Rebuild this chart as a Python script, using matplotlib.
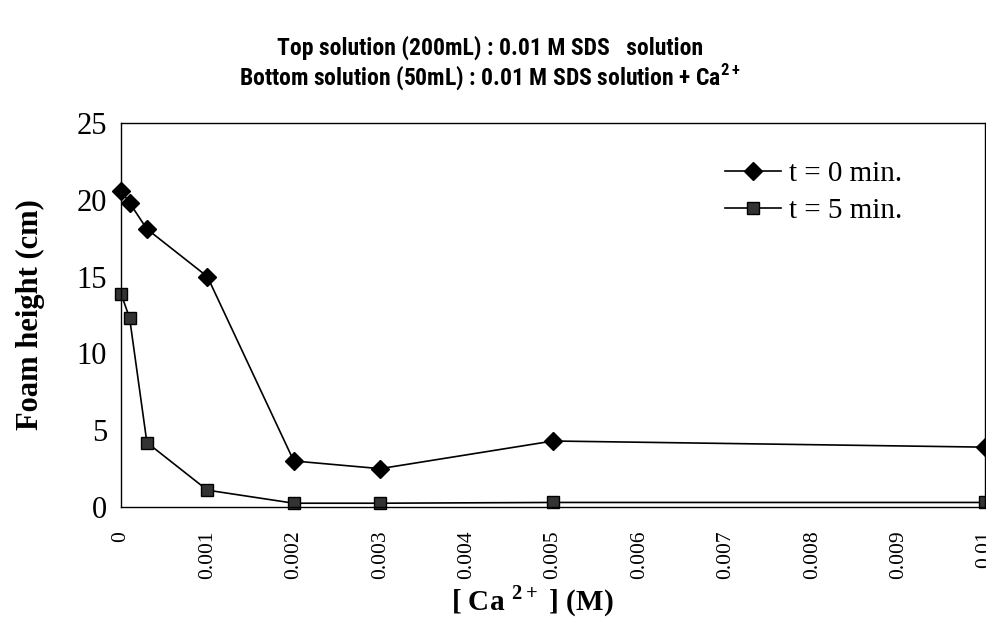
import matplotlib.pyplot as plt
from matplotlib import font_manager

# Calcium concentration (M) and foam heights (cm)
ca_conc = [0.0, 0.0001, 0.0003, 0.001, 0.002, 0.003, 0.005, 0.01]
height_t0 = [20.6, 19.8, 18.1, 15.0, 3.0, 2.5, 4.3, 3.9]
height_t5 = [13.9, 12.3, 4.2, 1.1, 0.25, 0.25, 0.3, 0.3]
series_labels = ["t = 0 min.", "t = 5 min."]

x_ticks = [0, 0.001, 0.002, 0.003, 0.004, 0.005, 0.006, 0.007, 0.008, 0.009, 0.01]
x_ticklabels = ["0", "0.001", "0.002", "0.003", "0.004", "0.005",
                "0.006", "0.007", "0.008", "0.009", "0.01"]
y_ticks = [0, 5, 10, 15, 20, 25]

# pick a narrow bold sans for the heading if one is around
bold_faces = {f.name for f in font_manager.fontManager.ttflist if f.weight in (600, 700, "bold")}
title_font = "Liberation Sans"
for cand in ["Archivo Narrow", "Roboto Condensed", "PT Sans Narrow", "Asap Condensed"]:
    if cand in bold_faces:
        title_font = cand
        break
serif = "Liberation Serif"

plt.rcParams["mathtext.fontset"] = "custom"
plt.rcParams["mathtext.bf"] = serif + ":bold"
plt.rcParams["mathtext.sf"] = title_font + ":bold"

fig = plt.figure(figsize=(9.86, 6.26), dpi=100)
ax = fig.add_axes([0.1227, 0.19, 0.8763, 0.6135])

ax.plot(ca_conc, height_t0, color="black", lw=1.2, marker="D", markersize=9,
        markerfacecolor="black", markeredgecolor="black", label=series_labels[0],
        clip_on=False)
ax.plot(ca_conc, height_t5, color="black", lw=1.2, marker="s", markersize=8.5,
        markerfacecolor="#333333", markeredgecolor="black", label=series_labels[1],
        clip_on=False)

ax.set_xlim(0, 0.01)
ax.set_ylim(0, 25)
ax.set_xticks(x_ticks)
ax.set_xticklabels(x_ticklabels, rotation=90, family=serif, fontsize=15.5)
ax.set_yticks(y_ticks)
ax.set_yticklabels([str(v) for v in y_ticks], family=serif, fontsize=22)
ax.tick_params(axis="both", length=0)
ax.tick_params(axis="x", pad=17)
ax.tick_params(axis="y", pad=10)

for side in ax.spines.values():
    side.set_linewidth(1.0)

ax.set_ylabel("Foam height (cm)", family=serif, fontweight="bold", fontsize=22, labelpad=23)
ax.set_xlabel(r"[ Ca $^{\mathbf{2+}}$ ] (M)", family=serif, fontweight="bold", fontsize=21)
ax.xaxis.set_label_coords(0.476, -0.2)

leg = ax.legend(loc="upper right", bbox_to_anchor=(0.935, 0.97), frameon=False,
                prop={"family": serif, "size": 21}, handlelength=1.9,
                handletextpad=0.3, labelspacing=0.35)

fig.text(0.497, 0.924, "Top solution (200mL) : 0.01 M SDS   solution",
         ha="center", va="center", family=title_font, fontweight="bold", fontsize=17)
fig.text(0.497, 0.876, r"Bottom solution (50mL) : 0.01 M SDS solution + Ca$^{\mathsf{2+}}$",
         ha="center", va="center", family=title_font, fontweight="bold", fontsize=17)

fig.savefig("out.png", dpi=100)
